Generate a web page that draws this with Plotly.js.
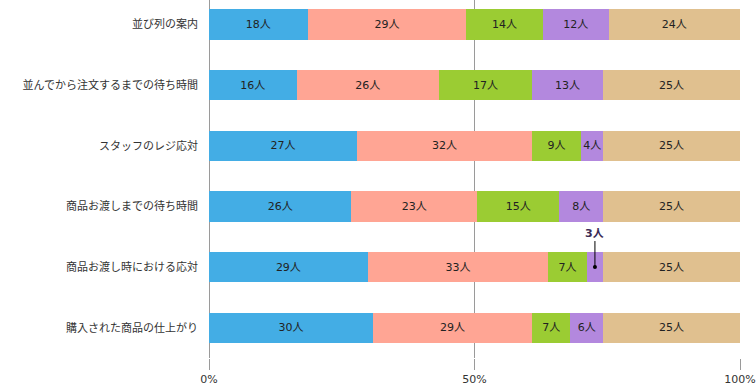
<!DOCTYPE html>
<html><head><meta charset="utf-8">
<script src="https://cdn.plot.ly/plotly-3.0.1.min.js"></script>
<style>html,body{margin:0;padding:0;background:#fff}#chart{width:756px;height:386px}</style>
</head><body><div id="chart"></div>
<script>
const categories = ["並び列の案内","並んでから注文するまでの待ち時間","スタッフのレジ応対","商品お渡しまでの待ち時間","商品お渡し時における応対","購入された商品の仕上がり"];
const s1 = [18,16,27,26,29,30];
const s2 = [29,26,32,23,33,29];
const s3 = [14,17,9,15,7,7];
const s4 = [12,13,4,8,3,6];
const s5 = [24,25,25,25,25,25];
const seriesNames = ["A","B","C","D","E"];
const colors = ["#43ADE5","#FFA594","#9BCC33","#B388DE","#E0C08F"];
const tickVals = [0,50,100];
const tickText = ["0%","50%","100%"];

const FONT = "DejaVu Sans, Verdana, 'Noto Sans CJK JP', sans-serif";
const all = [s1,s2,s3,s4,s5];
const traces = all.map((vals,i)=>({
  type:'bar', orientation:'h', name:seriesNames[i],
  y:categories, x:vals,
  text: vals.map(v => v < 4 ? '' : v + '人'),
  textposition:'inside', insidetextanchor:'middle', constraintext:'none', textangle:0,
  textfont:{family:FONT,size:11,color:'#222'},
  marker:{color:colors[i]}, hoverinfo:'none'
}));

const annos = [];
categories.forEach((c,ci)=>{
  const total = all.reduce((a,s)=>a+s[ci],0);
  let cum = 0;
  all.forEach((s,si)=>{
    const v = s[ci];
    if (v < 4) {
      annos.push({x:(cum+v/2)/total*100, y:c, xref:'x', yref:'y', text:'<b>'+v+'人</b>',
        showarrow:true, arrowhead:6, arrowsize:1, arrowwidth:1, arrowcolor:'#000',
        ax:0, ay:-34, font:{family:FONT,size:11,color:'#3a2a55', shadow:'0 0 2px #ffffff'}});
    }
    cum += v;
  });
});

const layout = {
  width:756, height:386,
  margin:{l:209,r:16,t:0,b:28,pad:0},
  barmode:'stack', barnorm:'percent', bargap:0.5,
  showlegend:false,
  paper_bgcolor:'#fff', plot_bgcolor:'#fff',
  xaxis:{range:[0,100], tickvals:tickVals, ticktext:tickText, showgrid:true, gridcolor:'#9a9a9a',
    zeroline:true, zerolinecolor:'#9a9a9a', showline:false, ticks:'outside', ticklen:11, tickcolor:'#9a9a9a',
    tickfont:{family:FONT,size:11,color:'#333'}, automargin:false, fixedrange:true},
  yaxis:{type:'category', range:[5.5,-0.404], showgrid:false, zeroline:false, ticks:'',
    tickfont:{family:FONT,size:11,color:'#333'}, ticklabelstandoff:10, automargin:false, fixedrange:true},
  annotations:annos
};
Plotly.newPlot('chart', traces, layout, {displayModeBar:false, staticPlot:true});
</script></body></html>
